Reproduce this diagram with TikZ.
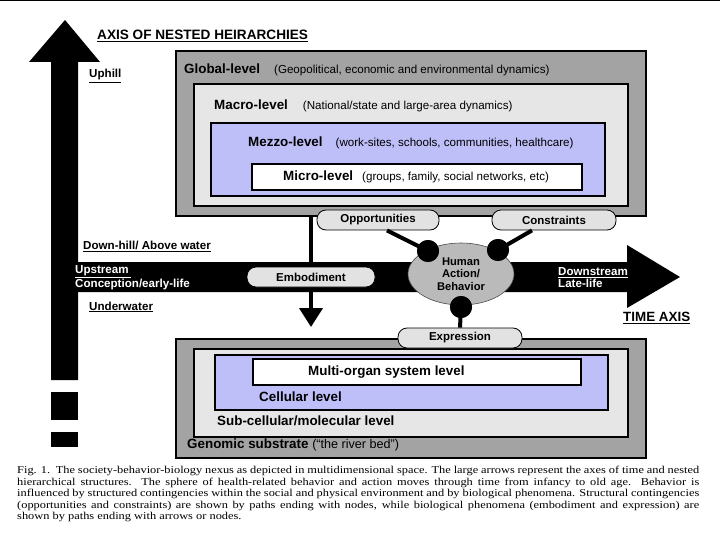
\documentclass[tikz,border=0pt]{standalone}
\usepackage{graphicx}
\usepackage{fontspec}
\setmainfont{Liberation Serif}
\newfontfamily\arial{Liberation Sans}
\usetikzlibrary{arrows.meta,calc,shapes.geometric}
\definecolor{outergray}{RGB}{163,163,163}
\definecolor{innergray}{RGB}{230,230,230}
\definecolor{lav}{RGB}{190,190,248}
\definecolor{pillgray}{RGB}{226,226,226}
\definecolor{ellgray}{RGB}{186,186,186}
\begin{document}
\begin{tikzpicture}[x=1pt,y=-1pt,
  every node/.style={font=\arial},
  levelbox/.style={draw=black, line width=1.6pt, anchor=north west, inner sep=0pt},
  pill/.style={draw=black, line width=0.8pt, fill=pillgray, rounded corners=9pt, minimum height=20pt, inner sep=0pt, font=\arial\fontsize{11.5}{13}\selectfont\bfseries},
  lbl/.style={anchor=west, inner sep=0pt, font=\arial\fontsize{11.6}{13}\selectfont\bfseries},
  title/.style={anchor=west, inner sep=0pt, font=\arial\fontsize{13.4}{15}\selectfont\bfseries},
  conn/.style={line width=4pt},
  dot/.style={circle, fill=black, minimum size=22pt, inner sep=0pt},
  bigarrow/.style={fill=black}
]
% frame
\fill[white] (0,0) rectangle (720,540);
\useasboundingbox (0,0) rectangle (720,540);
\draw[line width=1.2pt] (0,0.6) -- (720,0.6);

% axes
\fill[bigarrow] (51,380) -- (51,62) -- (29,62) -- (65,20) -- (100,62) -- (78,62) -- (78,380) -- cycle;
\fill[bigarrow] (51,392) rectangle (78,420);
\fill[bigarrow] (51,432) rectangle (78,447);
\fill[bigarrow] (51,262) -- (627,262) -- (627,245) -- (680,277) -- (627,308) -- (627,292) -- (51,292) -- cycle;

% upper nest
\node[levelbox, fill=outergray, minimum width=470pt, minimum height=165pt] (global) at (175,50) {};
\node[levelbox, fill=innergray, minimum width=434pt, minimum height=122pt] (macro) at (193,83) {};
\node[levelbox, fill=lav, minimum width=394pt, minimum height=73pt] (mezzo) at (210,122) {};
\node[levelbox, fill=white, minimum width=330pt, minimum height=26pt] (micro) at (251,163) {};
\node[title] (globallbl) at (184,70) {Global-level\hspace{14pt}{\fontsize{11.6}{13}\selectfont\mdseries(Geopolitical, economic and environmental dynamics)}};
\node[title] (macrolbl) at (214,106) {Macro-level\hspace{15pt}{\fontsize{11.6}{13}\selectfont\mdseries(National/state and large-area dynamics)}};
\node[title] (mezzolbl) at (248,143) {Mezzo-level\hspace{13pt}{\fontsize{11.6}{13}\selectfont\mdseries(work-sites, schools, communities, healthcare)}};
\node[title] (microlbl) at (283,177) {Micro-level\hspace{9pt}{\fontsize{11.6}{13}\selectfont\mdseries(groups, family, social networks, etc)}};

% lower nest
\node[levelbox, fill=outergray, minimum width=470pt, minimum height=119pt] (genomic) at (175,338) {};
\node[levelbox, fill=innergray, minimum width=434pt, minimum height=88pt] (subcell) at (193,348) {};
\node[levelbox, fill=lav, minimum width=393pt, minimum height=55pt] (cell) at (214,354) {};
\node[levelbox, fill=white, minimum width=328pt, minimum height=26pt] (organ) at (252,358) {};
\node[title] (organlbl) at (308,372) {Multi-organ system level};
\node[title] (celllbl) at (259,397) {Cellular level};
\node[title] (subcelllbl) at (217,421) {Sub-cellular/molecular level};
\node[title] (genomiclbl) at (187,445) {Genomic substrate {\fontsize{12.6}{14}\selectfont\mdseries(“the river bed”)}};

% axis labels
\node[lbl, font=\arial\fontsize{13.6}{15}\selectfont\bfseries] (axislbl) at (97,36) {\underline{AXIS OF NESTED HEIRARCHIES}};
\node[lbl] (uphill) at (89,76) {\underline{Uphill}};
\node[lbl] (downhill) at (83,246) {\underline{Down-hill/ Above water}};
\node[lbl, text=white, align=left, font=\arial\fontsize{11.6}{12}\selectfont\bfseries] (upstream) at (75,278) {\underline{Upstream\,}\\Conception/early-life};
\node[lbl] (underwater) at (89,307) {\underline{Underwater}};
\node[lbl, text=white, align=left, font=\arial\fontsize{11.6}{12}\selectfont\bfseries] (downstream) at (558,278) {\underline{Downstream}\\Late-life};
\node[lbl, font=\arial\fontsize{13.4}{15}\selectfont\bfseries] (timeaxis) at (623,318) {\underline{TIME AXIS}};

% embodiment arrow
\coordinate (embtip) at (311,327);
\draw[conn, -{Triangle[width=23pt,length=19pt]}] (global.south -| embtip) -- (embtip);

% human action ellipse
\node[ellipse, draw=black!70, line width=0.6pt, fill=ellgray, minimum width=106pt, minimum height=62pt, inner sep=0pt, align=center, font=\arial\fontsize{11.2}{12.7}\selectfont\bfseries] (human) at (461,274) {Human\\Action/\\Behavior};

% pills
\node[pill, minimum width=122pt] (opp) at (378,220) {Opportunities};
\node[pill, minimum width=124pt] (cons) at (554,220) {Constraints};
\node[pill, minimum width=128pt] (emb) at (311,277) {Embodiment};
\node[pill, minimum width=124pt] (expr) at (460,338) {Expression};

% nodes (dots)
\node[dot] (dotL) at (428,251) {};
\node[dot] (dotR) at (498,250) {};
\node[dot] (dotB) at (461,307) {};
\draw[conn] ($(opp.south)+(9,0)$) -- (dotL.center);
\draw[conn] ($(cons.south)+(-22,0)$) -- (dotR.center);
\draw[conn] (dotB.center) -- (expr.north);
\node[dot] at (dotL) {};
\node[dot] at (dotR) {};
\node[dot] at (dotB) {};

% caption
\node[anchor=north west, inner sep=0pt, font=\rmfamily\fontsize{10.5}{11.6}\selectfont] (caption) at (17,466) {\scalebox{1.18}[1]{\parbox[t]{578pt}{Fig. 1.\ \ The society-behavior-biology nexus as depicted in multidimensional space. The large arrows represent the axes of time and nested\linebreak hierarchical structures. The sphere of health-related behavior and action moves through time from infancy to old age. Behavior is\linebreak influenced by structured contingencies within the social and physical environment and by biological phenomena. Structural contingencies\linebreak (opportunities and constraints) are shown by paths ending with nodes, while biological phenomena (embodiment and expression) are\linebreak shown by paths ending with arrows or nodes.}}};
\end{tikzpicture}
\end{document}
